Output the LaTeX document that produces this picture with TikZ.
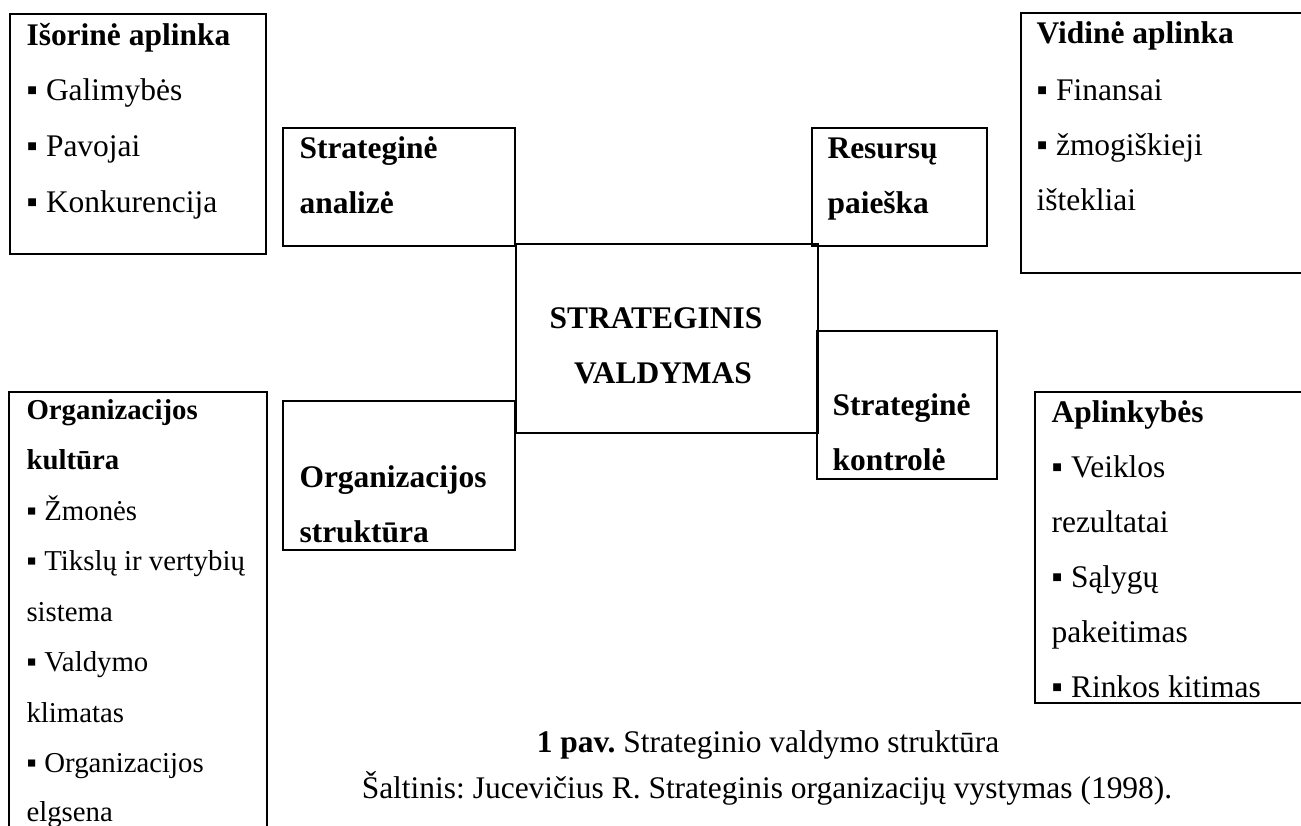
\documentclass[tikz,border=0pt]{standalone}
\usepackage{fontspec}
\setmainfont{Liberation Serif}
\frenchspacing
\begin{document}
\begin{tikzpicture}[x=0.375pt,y=-0.375pt,
  box/.style 2 args={draw, line width=0.75pt, inner sep=0pt, outer sep=0pt, anchor=north west,
    minimum width=#1*0.375pt, minimum height=#2*0.375pt},
  txt/.style={anchor=base west, inner sep=0pt, font=\fontsize{11.8}{14}\selectfont},
  btxt/.style={txt, font=\fontsize{11.8}{14}\selectfont\bfseries},
  stxt/.style={anchor=base west, inner sep=0pt, font=\fontsize{10.8}{13}\selectfont},
  sbtxt/.style={stxt, font=\fontsize{10.8}{13}\selectfont\bfseries},
  ctxt/.style={anchor=base, inner sep=0pt, font=\fontsize{11.8}{14}\selectfont}]
\newcommand\bl{\makebox[0.62em][l]{▪}}
\clip (0,0) rectangle (1301,825);
\useasboundingbox (0,0) rectangle (1301,825);
% boxes
\node[box={256}{240}] (iso) at (10,14) {};
\node[box={232}{118}] (sa) at (283,128) {};
\node[box={175}{118}] (rp) at (812,128) {};
\node[box={300}{260}] (vid) at (1021,13) {};
\node[box={302}{189}] (sv) at (516,244) {};
\node[box={232}{149}] (os) at (283,401) {};
\node[box={180}{148}] (sk) at (817,331) {};
\node[box={258}{460}] (ok) at (9,392) {};
\node[box={300}{311}] (apl) at (1035,392) {};
% Isorine aplinka
\node[btxt] (iso1) at (26,45) {Išorinė aplinka};
\node[txt] (iso2) at (26,100) {\bl Galimybės};
\node[txt] (iso3) at (26,156) {\bl Pavojai};
\node[txt] (iso4) at (26,212) {\bl Konkurencija};
% Strategine analize
\node[btxt] (sa1) at (299,158) {Strateginė};
\node[btxt] (sa2) at (299,213) {analizė};
% Resursu paieska
\node[btxt] (rp1) at (827,158) {Resursų};
\node[btxt] (rp2) at (827,213) {paieška};
% Vidine aplinka
\node[btxt] (vid1) at (1036,43) {Vidinė aplinka};
\node[txt] (vid2) at (1036,100) {\bl Finansai};
\node[txt] (vid3) at (1036,155) {\bl žmogiškieji};
\node[txt] (vid4) at (1036,210) {ištekliai};
% central
\node[ctxt, font=\fontsize{11.8}{14}\selectfont\bfseries] (sv1) at (656,328) {STRATEGINIS};
\node[ctxt, font=\fontsize{11.8}{14}\selectfont\bfseries] (sv2) at (663,383) {VALDYMAS};
% Organizacijos struktura
\node[btxt] (os1) at (299,487) {Organizacijos};
\node[btxt] (os2) at (299,542) {struktūra};
% Strategine kontrole
\node[btxt] (sk1) at (832,415) {Strateginė};
\node[btxt] (sk2) at (832,470) {kontrolė};
% Organizacijos kultura
\node[sbtxt] (ok1) at (26,419) {Organizacijos};
\node[sbtxt] (ok2) at (26,469.5) {kultūra};
\node[stxt] (ok3) at (26,520) {\bl Žmonės};
\node[stxt] (ok4) at (26,570.5) {\bl Tikslų ir vertybių};
\node[stxt] (ok5) at (26,621) {sistema};
\node[stxt] (ok6) at (26,671.5) {\bl Valdymo};
\node[stxt] (ok7) at (26,722) {klimatas};
\node[stxt] (ok8) at (26,772.5) {\bl Organizacijos};
\node[stxt] (ok9) at (26,821) {elgsena};
% Aplinkybes
\node[btxt] (apl1) at (1051,422) {Aplinkybės};
\node[txt] (apl2) at (1051,477) {\bl Veiklos};
\node[txt] (apl3) at (1051,532) {rezultatai};
\node[txt] (apl4) at (1051,587) {\bl Sąlygų};
\node[txt] (apl5) at (1051,642) {pakeitimas};
\node[txt] (apl6) at (1051,697) {\bl Rinkos kitimas};
% caption
\node[ctxt] (cap) at (768,752) {\textbf{1 pav.} Strateginio valdymo struktūra};
\node[ctxt] (src) at (767,798) {Šaltinis: Jucevičius R. Strateginis organizacijų vystymas (1998).};
\end{tikzpicture}
\end{document}
